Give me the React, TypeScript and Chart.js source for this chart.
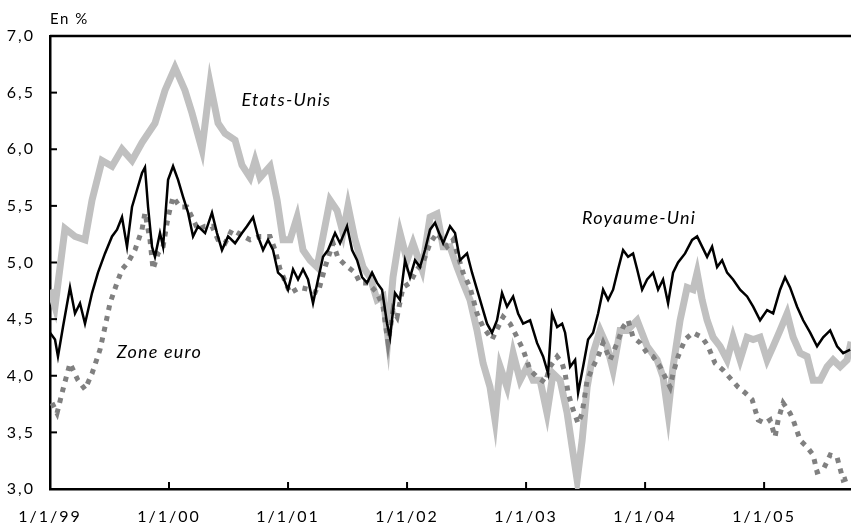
import React, { useEffect, useRef } from "react";
import { Chart, registerables } from "chart.js";

Chart.register(...registerables);

// x values are years elapsed since 1/1/1999
const xTickLabels = ["1/1/99", "1/1/00", "1/1/01", "1/1/02", "1/1/03", "1/1/04", "1/1/05"];
const yTickValues = [3, 3.5, 4, 4.5, 5, 5.5, 6, 6.5, 7];

const usDates = [0, 0.042, 0.126, 0.21, 0.294, 0.353, 0.437, 0.521, 0.605, 0.689, 0.773, 0.882, 0.966, 1.05, 1.134, 1.193, 1.277, 1.345, 1.412, 1.471, 1.555, 1.613, 1.681, 1.723, 1.765, 1.849, 1.908, 1.958, 2.017, 2.076, 2.126, 2.185, 2.244, 2.294, 2.353, 2.412, 2.462, 2.504, 2.563, 2.63, 2.689, 2.748, 2.798, 2.84, 2.882, 2.941, 3.0, 3.05, 3.126, 3.193, 3.252, 3.303, 3.361, 3.42, 3.471, 3.529, 3.588, 3.639, 3.697, 3.739, 3.782, 3.84, 3.891, 3.95, 4.008, 4.059, 4.118, 4.176, 4.227, 4.286, 4.345, 4.387, 4.429, 4.471, 4.513, 4.563, 4.622, 4.681, 4.731, 4.79, 4.849, 4.933, 5.017, 5.101, 5.151, 5.193, 5.235, 5.294, 5.353, 5.403, 5.437, 5.479, 5.521, 5.571, 5.63, 5.689, 5.739, 5.798, 5.857, 5.908, 5.966, 6.025, 6.076, 6.134, 6.193, 6.244, 6.303, 6.361, 6.412, 6.471, 6.529, 6.58, 6.639, 6.697, 6.731];
const usYields = [4.76, 4.61, 5.3, 5.23, 5.2, 5.55, 5.9, 5.85, 6.0, 5.9, 6.06, 6.23, 6.52, 6.72, 6.52, 6.32, 6.0, 6.58, 6.23, 6.14, 6.08, 5.86, 5.75, 5.9, 5.75, 5.85, 5.55, 5.2, 5.2, 5.4, 5.11, 5.02, 4.96, 5.23, 5.55, 5.46, 5.26, 5.5, 5.2, 4.96, 4.87, 4.67, 4.7, 4.34, 4.87, 5.26, 5.02, 5.17, 4.94, 5.4, 5.43, 5.14, 5.14, 4.96, 4.82, 4.67, 4.4, 4.11, 3.9, 3.61, 4.08, 3.9, 4.2, 3.96, 4.08, 3.96, 3.96, 3.67, 4.02, 3.96, 3.67, 3.37, 3.08, 3.43, 3.9, 4.2, 4.4, 4.26, 4.05, 4.4, 4.4, 4.49, 4.26, 4.14, 3.99, 3.67, 4.08, 4.49, 4.78, 4.76, 4.91, 4.67, 4.49, 4.34, 4.26, 4.14, 4.34, 4.14, 4.34, 4.32, 4.34, 4.14, 4.26, 4.4, 4.55, 4.34, 4.2, 4.17, 3.96, 3.96, 4.08, 4.14, 4.08, 4.14, 4.3];

const ukDates = [0, 0.042, 0.067, 0.109, 0.168, 0.21, 0.252, 0.294, 0.353, 0.403, 0.462, 0.521, 0.563, 0.605, 0.647, 0.689, 0.731, 0.773, 0.798, 0.824, 0.857, 0.882, 0.924, 0.95, 0.992, 1.034, 1.076, 1.118, 1.16, 1.202, 1.244, 1.303, 1.361, 1.403, 1.445, 1.496, 1.555, 1.613, 1.655, 1.706, 1.748, 1.79, 1.832, 1.874, 1.916, 1.958, 2.0, 2.042, 2.084, 2.126, 2.168, 2.21, 2.252, 2.294, 2.336, 2.395, 2.437, 2.496, 2.538, 2.58, 2.622, 2.664, 2.706, 2.748, 2.79, 2.832, 2.857, 2.899, 2.941, 2.983, 3.025, 3.067, 3.109, 3.151, 3.193, 3.235, 3.303, 3.361, 3.403, 3.445, 3.504, 3.546, 3.588, 3.63, 3.672, 3.714, 3.756, 3.798, 3.84, 3.891, 3.933, 3.975, 4.034, 4.092, 4.143, 4.185, 4.218, 4.261, 4.303, 4.328, 4.37, 4.412, 4.437, 4.479, 4.521, 4.563, 4.605, 4.647, 4.689, 4.731, 4.773, 4.815, 4.857, 4.899, 4.933, 4.975, 5.017, 5.067, 5.109, 5.151, 5.193, 5.235, 5.277, 5.336, 5.395, 5.437, 5.479, 5.521, 5.563, 5.605, 5.647, 5.689, 5.739, 5.798, 5.857, 5.908, 5.966, 6.025, 6.076, 6.134, 6.176, 6.218, 6.277, 6.328, 6.387, 6.445, 6.496, 6.555, 6.613, 6.664, 6.723];
const ukYields = [4.38, 4.32, 4.17, 4.43, 4.78, 4.55, 4.64, 4.46, 4.73, 4.91, 5.08, 5.23, 5.29, 5.4, 5.14, 5.49, 5.64, 5.79, 5.84, 5.49, 5.14, 5.05, 5.26, 5.14, 5.73, 5.85, 5.73, 5.58, 5.44, 5.23, 5.32, 5.26, 5.44, 5.26, 5.11, 5.23, 5.17, 5.26, 5.32, 5.4, 5.23, 5.11, 5.2, 5.11, 4.91, 4.87, 4.76, 4.94, 4.85, 4.94, 4.85, 4.64, 4.85, 5.05, 5.11, 5.26, 5.17, 5.32, 5.11, 5.02, 4.87, 4.82, 4.91, 4.82, 4.76, 4.46, 4.34, 4.73, 4.67, 5.02, 4.87, 5.02, 4.96, 5.11, 5.29, 5.35, 5.17, 5.32, 5.26, 5.02, 5.08, 4.91, 4.76, 4.61, 4.46, 4.38, 4.49, 4.73, 4.61, 4.7, 4.55, 4.46, 4.49, 4.29, 4.17, 4.02, 4.55, 4.43, 4.46, 4.38, 4.08, 4.14, 3.85, 4.08, 4.32, 4.38, 4.55, 4.76, 4.67, 4.76, 4.94, 5.11, 5.05, 5.08, 4.94, 4.76, 4.85, 4.91, 4.76, 4.85, 4.64, 4.91, 5.0, 5.08, 5.2, 5.23, 5.14, 5.05, 5.14, 4.96, 5.02, 4.91, 4.85, 4.76, 4.7, 4.61, 4.49, 4.58, 4.55, 4.76, 4.87, 4.78, 4.61, 4.49, 4.38, 4.26, 4.34, 4.4, 4.26, 4.2, 4.23];

const euroDates = [0.017, 0.059, 0.109, 0.168, 0.235, 0.294, 0.353, 0.42, 0.462, 0.504, 0.563, 0.605, 0.655, 0.714, 0.773, 0.798, 0.84, 0.866, 0.908, 0.95, 0.992, 1.034, 1.092, 1.151, 1.193, 1.244, 1.303, 1.361, 1.412, 1.471, 1.529, 1.58, 1.681, 1.765, 1.849, 1.891, 1.933, 2.017, 2.101, 2.185, 2.252, 2.311, 2.378, 2.42, 2.479, 2.563, 2.605, 2.672, 2.748, 2.798, 2.84, 2.882, 2.916, 2.966, 3.025, 3.084, 3.134, 3.193, 3.252, 3.336, 3.387, 3.471, 3.529, 3.588, 3.639, 3.714, 3.765, 3.807, 3.866, 3.924, 3.975, 4.034, 4.092, 4.16, 4.202, 4.261, 4.303, 4.328, 4.353, 4.395, 4.437, 4.471, 4.513, 4.563, 4.605, 4.647, 4.706, 4.765, 4.815, 4.857, 4.899, 4.958, 5.017, 5.067, 5.126, 5.168, 5.21, 5.235, 5.277, 5.336, 5.403, 5.479, 5.529, 5.588, 5.655, 5.731, 5.782, 5.84, 5.899, 5.95, 6.008, 6.05, 6.092, 6.118, 6.16, 6.218, 6.244, 6.303, 6.361, 6.412, 6.445, 6.496, 6.555, 6.613, 6.664, 6.723];
const euroYields = [3.76, 3.67, 3.88, 4.11, 3.96, 3.88, 4.02, 4.23, 4.43, 4.64, 4.82, 4.94, 5.0, 5.11, 5.29, 5.44, 5.2, 4.94, 5.08, 5.14, 5.4, 5.58, 5.49, 5.49, 5.4, 5.29, 5.32, 5.32, 5.2, 5.17, 5.29, 5.26, 5.2, 5.23, 5.23, 5.11, 4.94, 4.73, 4.78, 4.76, 4.73, 4.96, 5.17, 5.04, 4.98, 4.91, 4.82, 4.82, 4.73, 4.61, 4.29, 4.58, 4.52, 4.78, 4.82, 4.94, 5.0, 5.17, 5.26, 5.14, 5.2, 4.91, 4.78, 4.55, 4.43, 4.32, 4.43, 4.52, 4.46, 4.34, 4.23, 4.05, 3.99, 3.94, 4.08, 4.17, 4.11, 4.02, 3.85, 3.7, 3.58, 3.67, 3.96, 4.08, 4.17, 4.29, 4.14, 4.29, 4.43, 4.49, 4.34, 4.29, 4.2, 4.17, 4.08, 3.99, 3.9, 4.02, 4.17, 4.32, 4.38, 4.34, 4.26, 4.11, 4.05, 3.96, 3.9, 3.85, 3.79, 3.61, 3.58, 3.61, 3.46, 3.61, 3.76, 3.67, 3.61, 3.43, 3.37, 3.3, 3.15, 3.17, 3.3, 3.28, 3.08, 3.1];

const FONT = "Lato, 'Open Sans', sans-serif";

const spacing = {
  id: "spacing",
  beforeDraw(chart: any) {
    (chart.ctx as any).letterSpacing = "2px";
  },
  afterDraw(chart: any) {
    (chart.ctx as any).letterSpacing = "0px";
  },
};

const overlay = {
  id: "overlay",
  afterDraw(chart: any) {
    const { ctx, chartArea, scales } = chart;
    const xs = scales.x;
    const ys = scales.y;
    ctx.save();
    ctx.strokeStyle = "#000";
    ctx.lineWidth = 2.5;
    // top frame line
    ctx.beginPath();
    ctx.moveTo(chartArea.left, chartArea.top);
    ctx.lineTo(chartArea.right, chartArea.top);
    ctx.stroke();
    // inward tick marks
    ctx.lineWidth = 2;
    yTickValues.forEach((v) => {
      const y = ys.getPixelForValue(v);
      ctx.beginPath();
      ctx.moveTo(chartArea.left, y);
      ctx.lineTo(chartArea.left + 7, y);
      ctx.stroke();
    });
    xTickLabels.forEach((_, i) => {
      const x = xs.getPixelForValue(i);
      ctx.beginPath();
      ctx.moveTo(x, chartArea.bottom);
      ctx.lineTo(x, chartArea.bottom - 7);
      ctx.stroke();
    });
    // unit label
    ctx.fillStyle = "#000";
    ctx.textBaseline = "alphabetic";
    ctx.textAlign = "left";
    (ctx as any).letterSpacing = "1.5px";
    ctx.font = `15px ${FONT}`;
    ctx.fillText("En %", chartArea.left, chartArea.top - 12);
    // series labels
    (ctx as any).letterSpacing = "1.2px";
    ctx.font = `italic 18px ${FONT}`;
    ctx.fillText("Etats-Unis", xs.getPixelForValue(1.61), ys.getPixelForValue(6.38));
    ctx.fillText("Royaume-Uni", xs.getPixelForValue(4.47), ys.getPixelForValue(5.34));
    ctx.fillText("Zone euro", xs.getPixelForValue(0.56), ys.getPixelForValue(4.16));
    ctx.restore();
  },
};

export default function App() {
  const ref = useRef<HTMLCanvasElement | null>(null);
  useEffect(() => {
    if (!ref.current) return;
    const pts = (d: number[], v: number[]) => d.map((x, i) => ({ x, y: v[i] }));
    const chart = new Chart(ref.current, {
      type: "line",
      data: {
        datasets: [
          {
            label: "Royaume-Uni",
            data: pts(ukDates, ukYields),
            borderColor: "#000000",
            borderWidth: 2.5,
            pointRadius: 0,
            tension: 0,
            order: 0,
          },
          {
            label: "Zone euro",
            data: pts(euroDates, euroYields),
            borderColor: "#808080",
            borderWidth: 5,
            borderDash: [5, 6],
            borderCapStyle: "butt",
            pointRadius: 0,
            tension: 0,
            order: 1,
          },
          {
            label: "Etats-Unis",
            data: pts(usDates, usYields),
            borderColor: "#c0c0c0",
            borderWidth: 7,
            pointRadius: 0,
            tension: 0,
            order: 2,
          },
        ],
      },
      options: {
        animation: false,
        responsive: false,
        maintainAspectRatio: false,
        layout: { padding: { top: 36, right: 0, left: 0, bottom: 0 } },
        plugins: { legend: { display: false }, tooltip: { enabled: false } },
        scales: {
          x: {
            type: "linear",
            min: 0,
            max: 6.73,
            afterBuildTicks: (s: any) => {
              s.ticks = xTickLabels.map((_, i) => ({ value: i }));
            },
            afterFit: (s: any) => {
              s.height = 38;
            },
            ticks: {
              callback: (v: any) => xTickLabels[Math.round(v)] ?? "",
              padding: 18,
              maxRotation: 0,
              autoSkip: false,
              color: "#000",
              font: { family: FONT, size: 16 },
            },
            grid: { display: false, drawTicks: false },
            border: { color: "#000", width: 2.5 },
          },
          y: {
            min: 3,
            max: 7,
            afterBuildTicks: (s: any) => {
              s.ticks = yTickValues.map((v) => ({ value: v }));
            },
            afterFit: (s: any) => {
              s.width = 50;
            },
            ticks: {
              callback: (v: any) => Number(v).toFixed(1).replace(".", ","),
              padding: 15,
              color: "#000",
              font: { family: FONT, size: 16 },
            },
            grid: { display: false, drawTicks: false },
            border: { color: "#000", width: 2.5 },
          },
        },
      },
      plugins: [spacing, overlay],
    } as any);
    return () => chart.destroy();
  }, []);
  return (
    <div style={{ position: "fixed", left: 0, top: 0, width: 851, height: 527, background: "#fff" }}>
      <canvas ref={ref} width={851} height={527} style={{ width: 851, height: 527, display: "block" }} />
    </div>
  );
}
